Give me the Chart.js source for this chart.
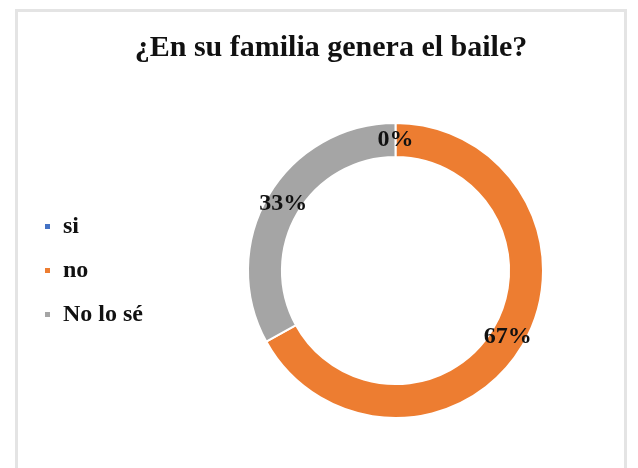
<!DOCTYPE html>
<html>
<head>
<meta charset="utf-8">
<script src="https://cdn.jsdelivr.net/npm/chart.js@4/dist/chart.umd.min.js"></script>
<style>
  html, body { margin: 0; padding: 0; background: #fff; }
  #wrap { position: relative; width: 638px; height: 468px; overflow: hidden; }
  #frame { position: absolute; left: 15px; top: 9px; width: 612px; height: 480px;
           border: 3px solid #e4e4e4; box-sizing: border-box; }
  canvas { position: absolute; left: 0; top: 0; }
</style>
</head>
<body>
<div id="wrap">
  <div id="frame"></div>
  <canvas id="chart" width="638" height="468"></canvas>
</div>
<script>
// datos
const categorias = ['si', 'no', 'No lo sé'];
const porcentajes = [0, 67, 33];
const colores = ['#4472C4', '#ED7D31', '#A5A5A5'];
const titulo = '¿En su familia genera el baile?';

// etiquetas de porcentaje en el centro de cada arco
const etiquetasPlugin = {
    id: 'etiquetas',
    afterDatasetsDraw(chart) {
        const ctx = chart.ctx;
        const meta = chart.getDatasetMeta(0);
        ctx.save();
        ctx.font = 'bold 24px "Liberation Serif", "Times New Roman", serif';
        ctx.fillStyle = '#111';
        ctx.textAlign = 'center';
        ctx.textBaseline = 'middle';
        meta.data.forEach((arc, i) => {
            const pos = arc.tooltipPosition();
            ctx.fillText(porcentajes[i] + '%', pos.x, pos.y);
        });
        ctx.restore();
    }
};

const ctx = document.getElementById('chart').getContext('2d');
new Chart(ctx, {
    type: 'doughnut',
    data: {
        labels: categorias,
        datasets: [{
            data: porcentajes,
            backgroundColor: colores,
            borderColor: '#ffffff',
            borderWidth: 2,
            hoverOffset: 0
        }]
    },
    options: {
        responsive: false,
        animation: false,
        cutout: '77%',
        layout: { padding: { left: 24, right: 0, top: 0, bottom: 49 } },
        plugins: {
            title: {
                display: true,
                text: titulo,
                color: '#111',
                font: { family: '"Liberation Serif", "Times New Roman", serif', size: 30, weight: 'bold' },
                padding: { top: 30, bottom: 56 }
            },
            legend: {
                position: 'left',
                fullSize: false,
                labels: {
                    boxWidth: 7,
                    boxHeight: 7,
                    padding: 20,
                    color: '#111',
                    font: { family: '"Liberation Serif", "Times New Roman", serif', size: 24, weight: 'bold' }
                }
            },
            tooltip: { enabled: false }
        }
    },
    plugins: [etiquetasPlugin]
});
</script>
</body>
</html>
